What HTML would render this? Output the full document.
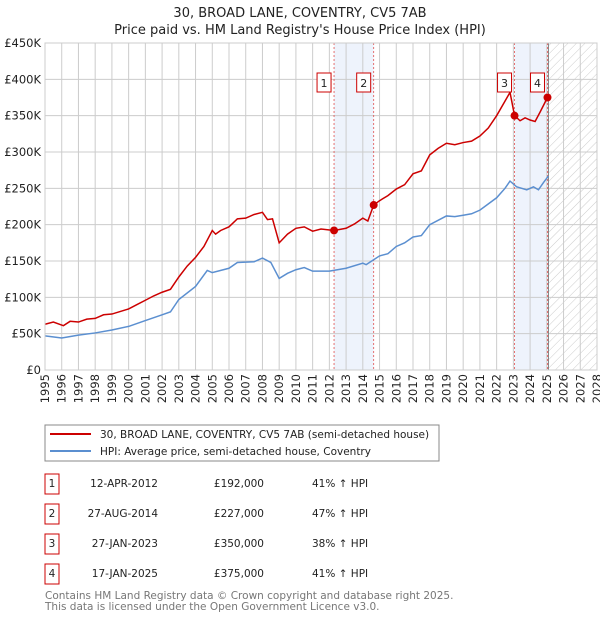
<!DOCTYPE html>
<html><head><meta charset="utf-8"><style>
body{margin:0;background:#fff;font-family:"DejaVu Sans","Liberation Sans",sans-serif;}
svg text{font-family:"DejaVu Sans","Liberation Sans",sans-serif;}
</style></head><body>
<svg id="c" width="600" height="620" xmlns="http://www.w3.org/2000/svg">
<defs><pattern id="hatch" width="6" height="6" patternUnits="userSpaceOnUse" patternTransform="rotate(45)"><line x1="0" y1="0" x2="0" y2="6" stroke="#ccc" stroke-width="1"/></pattern></defs>
<text x="300" y="17" text-anchor="middle" font-size="13" fill="#222">30, BROAD LANE, COVENTRY, CV5 7AB</text>
<text x="300" y="34" text-anchor="middle" font-size="13" fill="#222">Price paid vs. HM Land Registry's House Price Index (HPI)</text>
<g id="plot"></g>
<rect x="45" y="425" width="394" height="36" fill="#fff" stroke="#888"/>
<line x1="50" y1="434" x2="91" y2="434" stroke="#cc0000" stroke-width="2"/>
<text x="100" y="438" font-size="10.5" fill="#222">30, BROAD LANE, COVENTRY, CV5 7AB (semi-detached house)</text>
<line x1="50" y1="451" x2="91" y2="451" stroke="#5b8fd0" stroke-width="2"/>
<text x="100" y="455" font-size="10.5" fill="#222">HPI: Average price, semi-detached house, Coventry</text>
<g id="tbl" font-size="10.5" fill="#222"></g>
<text x="45" y="599" font-size="10.5" fill="#777">Contains HM Land Registry data © Crown copyright and database right 2025.</text>
<text x="45" y="610" font-size="10.5" fill="#777">This data is licensed under the Open Government Licence v3.0.</text>
</svg>
<script>
const hpiYears=[1995,1996,1997,1998,1999,2000,2001,2002,2002.5,2003,2004,2004.7,2005,2006,2006.5,2007.5,2008,2008.5,2009,2009.5,2010,2010.5,2011,2012,2013,2014,2014.2,2015,2015.5,2016,2016.5,2017,2017.5,2018,2019,2019.5,2020,2020.5,2021,2022,2022.5,2022.8,2023.2,2023.8,2024.2,2024.5,2024.8,2025.1];
const hpiValues=[47,44,48,51,55,60,68,76,80,97,115,137,134,140,148,149,154,148,126,133,138,141,136,136,140,147,145,157,160,170,175,183,185,200,212,211,213,215,220,237,250,260,252,248,252,248,258,267];
const priceYears=[1995,1995.5,1996.1,1996.5,1997,1997.5,1998,1998.5,1999,2000,2000.5,2001,2001.5,2002,2002.5,2003,2003.5,2004,2004.5,2005,2005.2,2005.5,2006,2006.5,2007,2007.5,2008,2008.3,2008.6,2009,2009.5,2010,2010.5,2011,2011.5,2012.28,2013,2013.5,2014,2014.3,2014.65,2015,2015.5,2016,2016.5,2017,2017.5,2018,2018.5,2019,2019.5,2020,2020.5,2021,2021.5,2022,2022.5,2022.8,2023.07,2023.4,2023.7,2024,2024.3,2024.6,2025.04];
const priceValues=[63,66,61,67,66,70,71,76,77,84,90,96,102,107,111,128,143,155,170,192,187,192,197,208,209,214,217,207,208,175,187,195,197,191,194,192,195,201,209,205,227,233,240,249,255,270,274,296,305,312,310,313,315,322,333,350,370,382,350,343,347,344,342,355,375];
const saleLabels=["1","2","3","4"];
const saleYears=[2012.28,2014.65,2023.07,2025.04];
const saleValues=[192,227,350,375];
const saleDates=["12-APR-2012","27-AUG-2014","27-JAN-2023","17-JAN-2025"];
const salePrices=["£192,000","£227,000","£350,000","£375,000"];
const saleDiffs=["41% ↑ HPI","47% ↑ HPI","38% ↑ HPI","41% ↑ HPI"];
const yTicks=[0,50,100,150,200,250,300,350,400,450];
const yTickLabels=["£0","£50K","£100K","£150K","£200K","£250K","£300K","£350K","£400K","£450K"];
const xTicks=[];for(let y=1995;y<=2028;y++)xTicks.push(y);

const X0=45,X1=597,Y0=370,Y1=43;
const sx=v=>X0+(v-1995)/(2028-1995)*(X1-X0);
const sy=v=>Y0-v/450*(Y0-Y1);
const NS="http://www.w3.org/2000/svg";
const g=document.getElementById('plot');
function mk(t,a,p){const e=document.createElementNS(NS,t);for(const k in a)e.setAttribute(k,a[k]);(p||g).appendChild(e);return e;}
let s1=mk('rect',{x:sx(saleYears[0]),y:Y1,width:sx(saleYears[1])-sx(saleYears[0]),height:Y0-Y1,fill:'#eef3fc'});


let s2=mk('rect',{x:sx(saleYears[2]),y:Y1,width:sx(saleYears[3])-sx(saleYears[2]),height:Y0-Y1,fill:'#eef3fc'});


let ht=mk('rect',{x:sx(2025.1),y:Y1,width:X1-sx(2025.1),height:Y0-Y1,fill:'url(#hatch)'});


yTicks.forEach((v,i)=>{
 mk('line',{x1:X0,x2:X1,y1:sy(v),y2:sy(v),stroke:'#ccc'});
 const t=mk('text',{x:X0-4,y:sy(v)+4,'text-anchor':'end','font-size':11.5,fill:'#222'});t.textContent=yTickLabels[i];
 
 
});
xTicks.forEach(v=>{
 mk('line',{x1:sx(v),x2:sx(v),y1:Y1,y2:Y0,stroke:'#ccc'});
 const t=mk('text',{x:0,y:0,'text-anchor':'end','font-size':11.5,fill:'#222',transform:`translate(${sx(v)+4},${Y0+4}) rotate(-90)`});t.textContent=v;
 
 
});
mk('line',{x1:sx(2025.1),x2:sx(2025.1),y1:Y1,y2:Y0,stroke:'#888'});
saleYears.forEach(v=>mk('line',{x1:sx(v),x2:sx(v),y1:Y1,y2:Y0,stroke:'#e05050','stroke-dasharray':'2,2','stroke-width':0.8}));
const hp=mk('polyline',{points:hpiYears.map((y,i)=>sx(y)+','+sy(hpiValues[i])).join(' '),fill:'none',stroke:'#5b8fd0','stroke-width':1.5});


const pp=mk('polyline',{points:priceYears.map((y,i)=>sx(y)+','+sy(priceValues[i])).join(' '),fill:'none',stroke:'#cc0000','stroke-width':1.5});


saleYears.forEach((y,i)=>{
 const c=mk('circle',{cx:sx(y),cy:sy(saleValues[i]),r:4,fill:'#cc0000'});
 
 
 const bx=sx(y)-10;
 const r=mk('rect',{x:bx-7,y:73,width:14,height:19,fill:'#fff',stroke:'#cc0000'});
 
 
 const t=mk('text',{x:bx,y:87,'text-anchor':'middle','font-size':11,fill:'#222'});t.textContent=saleLabels[i];
});
mk('rect',{x:X0,y:Y1,width:X1-X0,height:Y0-Y1,fill:'none',stroke:'#ccc'});
const tb=document.getElementById('tbl');
saleLabels.forEach((l,i)=>{
 const y=487+i*30;
 const r=mk('rect',{x:45,y:y-13,width:14,height:20,fill:'#fff',stroke:'#cc0000'},tb);
 
 
 const a=mk('text',{x:52,y:y,'text-anchor':'middle'},tb);a.textContent=l;
 const d=mk('text',{x:158,y:y,'text-anchor':'end'},tb);d.textContent=saleDates[i];
 
 
 const p=mk('text',{x:264,y:y,'text-anchor':'end'},tb);p.textContent=salePrices[i];
 
 
 const h=mk('text',{x:312,y:y},tb);h.textContent=saleDiffs[i];
 
 
});
</script>
</body></html>
